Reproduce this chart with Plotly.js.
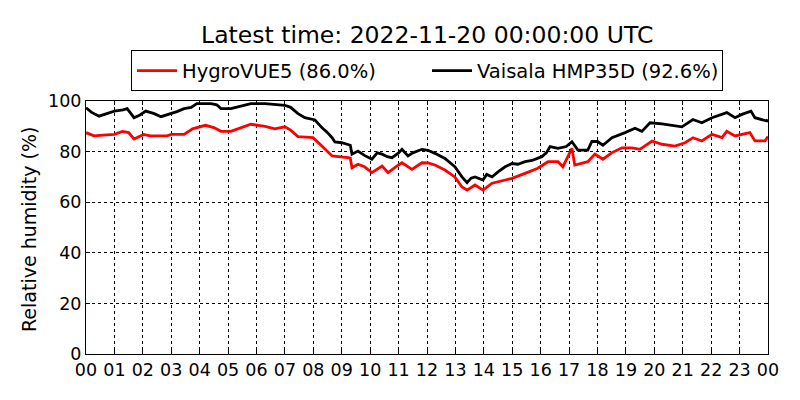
<!DOCTYPE html>
<html>
<head>
<meta charset="utf-8">
<script src="https://cdn.plot.ly/plotly-3.0.1.min.js"></script>
<style>
  body { margin: 0; background: #fff; }
  #chart { width: 800px; height: 400px; }
</style>
</head>
<body>
<div id="chart"></div>
<script>
// hours since 2022-11-19 00:00 UTC
var vaisalaHours = [0.0, 0.2, 0.46, 0.7, 1.0, 1.3, 1.45, 1.69, 1.9, 2.1, 2.4, 2.64, 3.0, 3.2, 3.45, 3.7,
  3.9, 4.4, 4.6, 4.75, 5.1, 5.3, 5.45, 5.8, 6.3, 6.65, 7.0, 7.2, 7.46, 7.7, 8.06, 8.3, 8.5, 8.66,
  8.76, 9.0, 9.22, 9.3, 9.36, 9.57, 9.8, 10.06, 10.25, 10.42, 10.6, 10.77, 11.0, 11.12, 11.33, 11.5,
  11.82, 12.03, 12.28, 12.63, 12.98, 13.1, 13.23, 13.41, 13.55, 13.69, 13.97, 14.1, 14.29, 14.5,
  14.75, 14.99, 15.2, 15.45, 15.7, 16.04, 16.2, 16.33, 16.61, 16.9, 17.1, 17.31, 17.66, 17.8, 18.0,
  18.19, 18.51, 18.97, 19.32, 19.56, 19.85, 20.27, 20.72, 20.97, 21.36, 21.67, 22.03, 22.55, 22.84,
  23.08, 23.4, 23.54, 23.96, 24.0];
var vaisalaRH = [97.3, 95.5, 94, 94.8, 96, 96.5, 97, 93.4, 94.5, 96, 95, 93.8, 95, 95.8, 97, 97.5,
  99, 99, 98.5, 97, 97, 97.5, 98, 99, 99, 98.7, 98.3, 97.5, 95, 93.4, 92.5, 89.5, 87.5, 85.5,
  83.8, 83.5, 82.9, 82.5, 79, 80.2, 78.5, 77, 79.5, 79, 78, 77.6, 79.5, 80.9, 78.3, 79.5,
  80.9, 80.5, 79.3, 77.3, 74, 72, 70, 67.7, 69.5, 70, 68.8, 71, 70, 72,
  74, 75.3, 75, 76, 76.5, 78, 79.5, 82, 81.3, 82, 83.9, 80.6, 80.6, 84, 84,
  82.5, 85.5, 87.5, 89.2, 88, 91.4, 91, 90.1, 89.8, 92.7, 91.4, 93.4, 95.4, 93.4,
  94.7, 96, 93.4, 92.1, 92.6];

var hygroHours = [0.0, 0.28, 0.6, 1.0, 1.28, 1.5, 1.69, 1.9, 2.03, 2.25, 2.85, 3.0, 3.45, 3.75, 3.9,
  4.2, 4.5, 4.75, 5.1, 5.45, 5.8, 6.3, 6.65, 7.0, 7.2, 7.46, 7.99, 8.3, 8.66, 9.22, 9.3, 9.36, 9.57,
  9.8, 10.06, 10.42, 10.63, 10.9, 11.12, 11.47, 11.82, 12.03, 12.28, 12.63, 12.98, 13.23, 13.41,
  13.69, 13.97, 14.29, 14.99, 15.45, 15.9, 16.26, 16.61, 16.78, 17.1, 17.2, 17.66, 17.91, 18.19,
  18.51, 18.86, 19.21, 19.49, 19.92, 20.27, 20.72, 21.08, 21.36, 21.67, 22.03, 22.38, 22.55, 22.84,
  23.36, 23.54, 23.89, 24.0];
var hygroRH = [87.5, 86.2, 86.5, 86.8, 88, 87.5, 85, 86, 86.8, 86.2, 86.2, 86.8, 86.8, 89, 89.5,
  90.4, 89.5, 88, 88, 89.5, 90.8, 90, 89, 89.8, 88.5, 85.9, 85.5, 82.2, 78.3, 77.6, 77.5, 73.6, 75,
  74, 71.7, 74.3, 71.7, 74, 75.6, 73, 75.6, 75.5, 74.7, 72.7, 70, 66, 64.8,
  66.8, 64.8, 67.5, 69.4, 71.4, 73.4, 76, 76, 74, 81.3, 74.7, 76, 79, 77,
  79.6, 81.5, 81.5, 80.9, 84.2, 82.9, 82.2, 83.5, 85.5, 84.2, 86.8, 85.5, 88, 86.2,
  87.5, 84.2, 84.2, 86.0];

var hourTicks = [0, 1, 2, 3, 4, 5, 6, 7, 8, 9, 10, 11, 12, 13, 14, 15, 16, 17, 18, 19, 20, 21, 22, 23, 24];
var hourLabels = ['00', '01', '02', '03', '04', '05', '06', '07', '08', '09', '10', '11', '12',
  '13', '14', '15', '16', '17', '18', '19', '20', '21', '22', '23', '00'];

var traces = [
  {
    x: hygroHours, y: hygroRH, type: 'scatter', mode: 'lines',
    name: 'HygroVUE5 (86.0%)',
    line: { color: '#ff0000', width: 2.8 }
  },
  {
    x: vaisalaHours, y: vaisalaRH, type: 'scatter', mode: 'lines',
    name: 'Vaisala HMP35D (92.6%)',
    line: { color: '#000000', width: 2.8 }
  }
];

var axisCommon = {
  showline: true, linecolor: '#000', linewidth: 1, mirror: 'ticks',
  ticks: 'inside', ticklen: 4, tickcolor: '#000',
  showgrid: true, gridcolor: '#000', griddash: 'dot', gridwidth: 1,
  zeroline: false,
  tickfont: { family: 'DejaVu Sans', size: 17.5, color: '#000' }
};

var layout = {
  width: 800, height: 400,
  margin: { l: 86, r: 32, t: 101, b: 46 },
  paper_bgcolor: '#fff', plot_bgcolor: '#fff',
  font: { family: 'DejaVu Sans', color: '#000' },
  title: {
    text: 'Latest time: 2022-11-20 00:00:00 UTC',
    font: { family: 'DejaVu Sans', size: 23.5, color: '#000' },
    x: 0.534, xanchor: 'center', y: 0.912, yanchor: 'middle'
  },
  showlegend: true,
  legend: {
    orientation: 'h', x: 0.5, xanchor: 'center', y: 1.038, yanchor: 'bottom',
    bgcolor: '#fff', bordercolor: '#000', borderwidth: 1,
    entrywidth: 240, entrywidthmode: 'pixels', itemwidth: 40,
    font: { family: 'DejaVu Sans', size: 19.5, color: '#000' }
  },
  xaxis: Object.assign({}, axisCommon, {
    range: [0, 24], tickmode: 'array', tickvals: hourTicks, ticktext: hourLabels
  }),
  yaxis: Object.assign({}, axisCommon, {
    range: [0, 100], tickmode: 'array', tickvals: [0, 20, 40, 60, 80, 100]
  }),
  // y axis title as an annotation so it can sit where the reference has it
  annotations: [{
    text: 'Relative humidity (%)', textangle: -90,
    xref: 'paper', yref: 'paper', x: -0.0836, y: 0.494,
    xanchor: 'center', yanchor: 'middle', showarrow: false,
    font: { family: 'DejaVu Sans', size: 19, color: '#000' }
  }]
};

Plotly.newPlot('chart', traces, layout, { staticPlot: true });
</script>
</body>
</html>
